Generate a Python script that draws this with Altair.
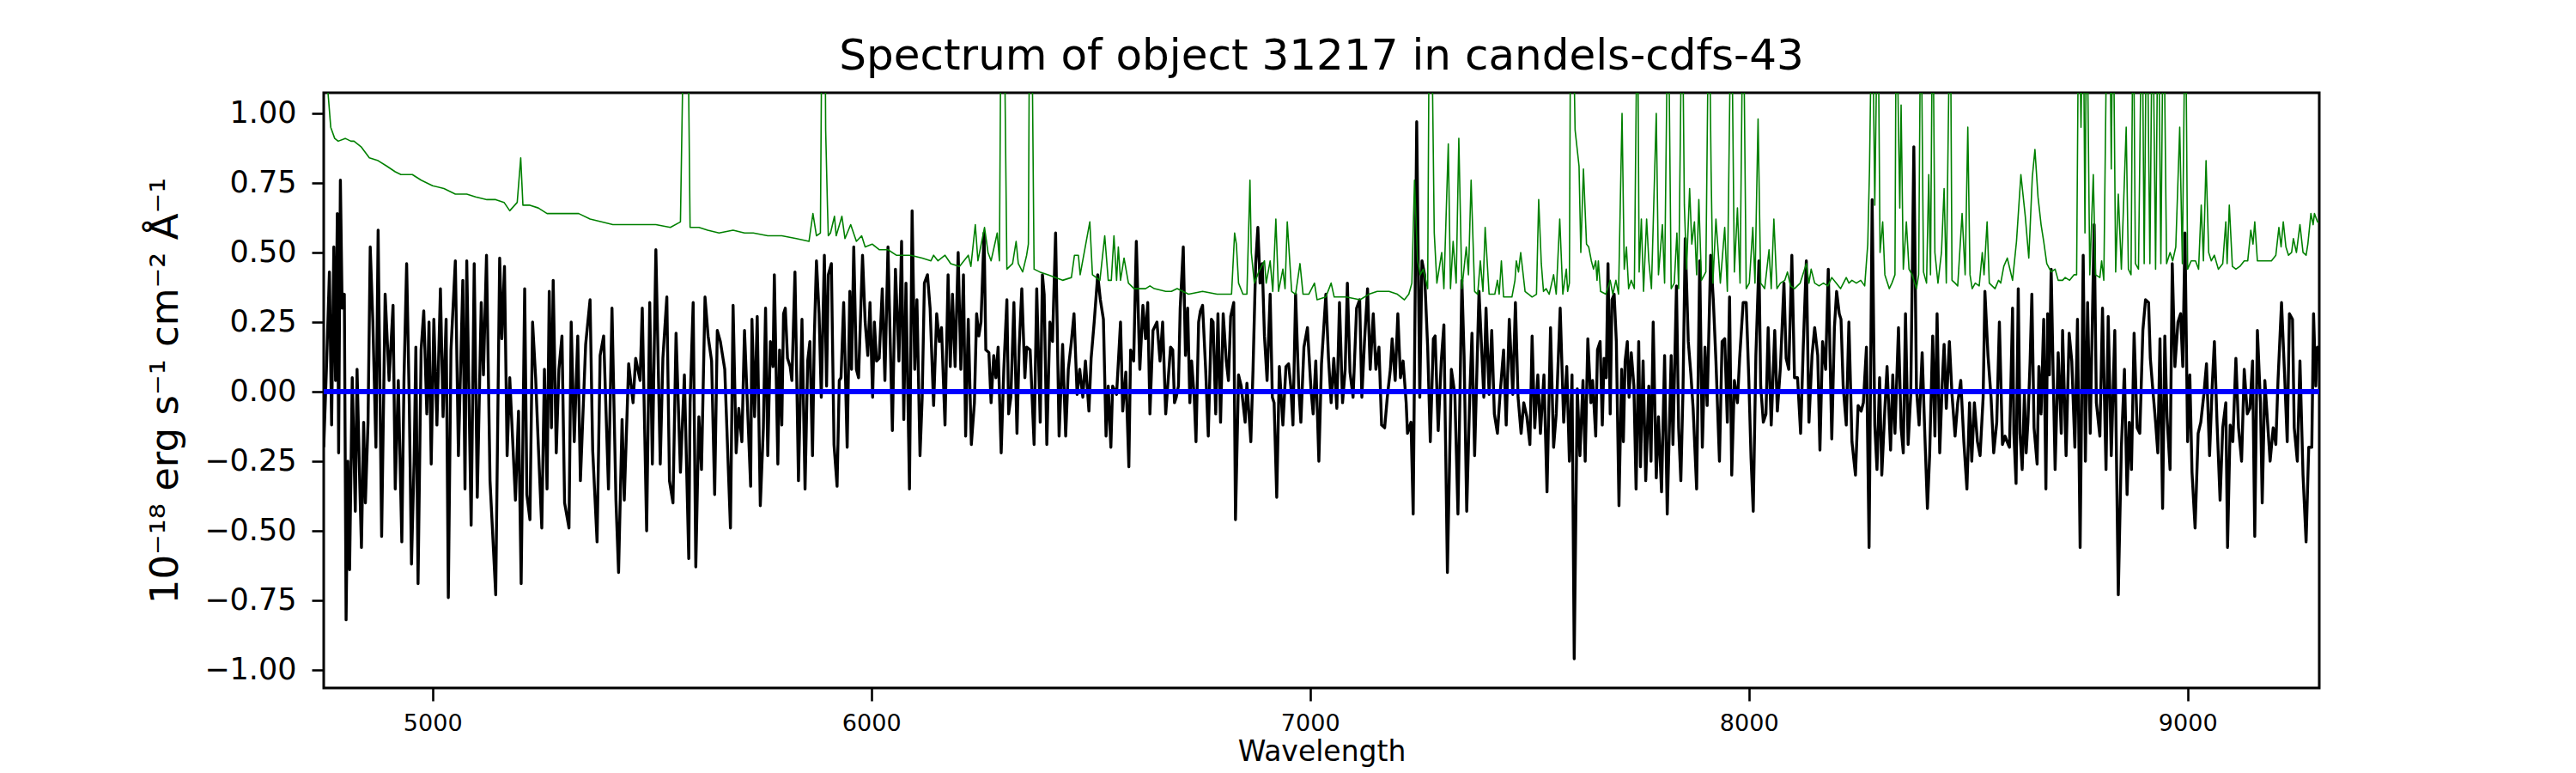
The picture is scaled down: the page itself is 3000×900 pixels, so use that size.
import altair as alt
import pandas as pd

TITLE = "Spectrum of object 31217 in candels-cdfs-43"
X_TITLE = "Wavelength"
Y_TITLE = "10⁻¹⁸ erg s⁻¹ cm⁻² Å⁻¹"
X_TICKS = [5000, 6000, 7000, 8000, 9000]
Y_TICKS = [-1.0, -0.75, -0.5, -0.25, 0.0, 0.25, 0.5, 0.75, 1.0]
X_RANGE = [4752, 9300]
Y_RANGE = [-1.065, 1.074]

wl_a = [4752,4759,4765,4770,4775,4779,4783,4786,4790,4794,4799,4803,4807,4811,4817,4824,4828,4834,4838,4843,
        4847,4853,4858,4864,4871,4876,4884,4892,4901,4910,4915,4922,4930,4935,4941,4947,4952,4958,4962,4967,
        4974,4980,4987,4992,4997,5003,5010,5018,5024,5031,5036,5042,5052,5059,5069,5074,5078,5088,5095,5102,
        5111,5116,5123,5131,5144,5153,5158,5164,5170,5176,5189,5196,5202,5210,5215,5222,5228,5235,5241,5249,
        5255,5261,5266,5271,5275,5282,5288,5295,5301,5311,5316,5323,5331,5337,5349,5359,5365,5375,5382,5390,
        5401,5409,5418,5424,5432,5437,5447,5457,5463,5473,5478,5488,5495,5501,5509,5519,5525,5534,5540,5548,
        5555,5565,5574,5584,5587,5594,5600,5607,5613,5621,5628,5636,5643,5649,5656,5666,5679,5685,5692,5698,
        5705,5711]
flux_a = [-0.20,0.12,0.43,-0.12,0.52,0.04,0.64,-0.22,0.76,0.30,0.35,-0.82,-0.25,-0.64,0.05,-0.43,0.08,-0.32,-0.56,-0.11,
          -0.40,-0.11,0.52,0.25,-0.20,0.58,-0.52,0.35,0.04,0.31,-0.35,0.04,-0.54,0.05,0.46,-0.04,-0.62,-0.25,0.16,-0.69,
          0.15,0.29,-0.08,0.25,-0.26,0.26,-0.12,0.37,-0.09,0.26,-0.74,0.15,0.47,-0.23,0.40,-0.35,0.47,-0.48,0.46,-0.38,
          0.32,0.06,0.49,-0.32,-0.73,0.48,0.19,0.45,-0.23,0.05,-0.39,-0.07,-0.69,0.37,-0.37,-0.46,0.25,0.05,-0.19,-0.49,
          0.08,-0.35,0.36,-0.13,0.40,-0.22,0.08,0.20,-0.40,-0.49,0.25,-0.18,0.20,-0.32,0.17,0.33,-0.21,-0.54,0.13,0.20,
          -0.35,0.30,-0.39,-0.65,-0.10,-0.39,0.10,-0.04,0.12,0.04,0.30,-0.50,0.32,-0.26,0.51,-0.26,0.12,0.34,-0.32,-0.40,
          0.21,-0.29,0.06,-0.60,-0.04,0.32,-0.63,-0.09,-0.28,0.34,0.20,0.11,-0.37,0.22,0.18,0.08,-0.49,0.31,-0.22,-0.06,
          -0.18,0.22]

wl_b = [5725,5728,5734,5740,5747,5754,5759,5764,5770,5776,5779,5787,5791,5796,5800,5804,5809,5815,5819,5826,
        5834,5842,5849,5855,5860,5866,5870,5875,5881,5886,5893,5898,5902,5909,5915,5922,5927,5931,5937,5945,
        5951,5955,5960,5966,5971,5980,5986,5992,5997,6003,6007,6012,6018,6025,6031,6038,6048,6055,6063,6069,
        6074,6079,6087,6093,6099,6104,6111,6116,6121,6128,6134,6142,6149,6155,6160,6168,6175,6180,6185,6191,
        6198,6204,6210,6215,6221,6228,6235,6240,6245,6250,6257,6261,6268,6273,6279,6284,6289,6296,6302,6309,
        6313,6318,6325,6332,6337,6343,6350,6354,6362,6371,6377,6385,6390,6394,6400,6407,6413,6420,6428,6436,
        6443,6449,6456,6462,6469,6475,6482,6488,6496,6501,6508,6516,6522,6529,6535,6540,6546,6550,6559,6568,
        6573,6580,6587,6591,6598,6604,6612,6619,6625,6630,6635,6642,6651,6658,6664,6671]
flux_b = [-0.34,0.26,-0.09,0.27,-0.41,-0.13,0.30,-0.23,0.18,0.09,0.42,-0.26,0.15,-0.12,0.28,0.30,0.12,0.09,0.04,0.43,
          -0.32,0.26,-0.35,0.11,0.18,-0.23,0.19,0.47,0.28,-0.02,0.49,0.02,0.42,0.46,-0.19,-0.34,0.04,0.05,0.32,-0.20,
          0.36,0.08,0.52,0.08,0.05,0.49,0.25,0.13,0.32,-0.02,0.25,0.11,0.12,0.37,0.04,0.52,-0.14,0.44,0.11,0.54,
          -0.10,0.39,-0.35,0.65,0.08,0.33,-0.23,-0.02,0.39,0.42,0.30,-0.05,0.28,0.18,0.23,-0.12,0.42,0.09,0.35,0.09,
          0.50,0.08,0.42,-0.16,0.26,-0.19,-0.04,0.28,0.20,0.25,0.57,0.15,0.14,-0.04,0.13,0.05,0.16,-0.22,0.08,0.33,
          -0.08,-0.02,0.32,-0.15,0.16,0.37,0.05,0.16,0.15,-0.19,0.37,-0.11,0.42,0.35,-0.19,0.25,0.18,0.57,-0.16,0.17,
          -0.16,0.08,0.18,0.28,-0.01,0.08,-0.02,0.11,-0.07,0.12,0.25,0.42,0.33,0.26,-0.16,0.02,-0.20,0.02,-0.01,0.25,
          -0.07,0.07,-0.27,0.15,0.11,0.54,0.08,0.31,0.19,0.32,-0.08,0.22,0.25,0.11,0.25,-0.08]

wl_c = [6682,6687,6691,6695,6700,6704,6711,6716,6721,6726,6730,6736,6740,6746,6750,6755,6762,6768,6775,6779,
        6785,6790,6796,6802,6809,6814,6819,6826,6830,6837,6843,6852,6856,6865,6870,6876,6881,6886,6891,6896,
        6902,6909,6914,6918,6924,6930,6935,6938,6945,6951,6956,6961,6967,6974,6979,6986,6994,7002,7007,7013,
        7020,7026,7036,7042,7048,7054,7061,7067,7074,7080,7085,7091,7098,7106,7113,7118,7124,7131,7137,7144,
        7150,7157,7163,7170,7176,7183,7187,7194,7200,7206,7212,7219,7222,7230,7235,7243,7250,7255,7261,7268,
        7274,7281,7285,7292,7299,7305,7313,7322,7330,7337,7346,7351,7357,7364,7369,7375,7385,7392,7396,7401,
        7408,7414,7420,7427,7433,7441,7447,7454,7462,7468,7474,7481,7487,7494,7501,7506,7512,7519,7525,7533,
        7540,7548,7555,7561,7570,7578,7585,7591,7597,7602,7609,7615,7622,7627,7633]
flux_c = [0.16,0.15,-0.04,-0.02,0.02,0.30,0.52,0.13,0.30,-0.04,0.11,-0.02,-0.18,0.25,0.29,0.31,0.08,-0.16,0.26,0.25,
          -0.08,0.28,-0.11,0.28,0.11,0.04,0.27,0.32,-0.46,0.06,0.02,-0.11,0.03,-0.18,0.08,0.46,0.59,0.39,0.46,0.20,
          0.04,0.35,-0.02,-0.04,-0.38,0.09,-0.04,-0.12,0.09,0.10,0.02,-0.12,0.35,0.02,-0.11,0.16,0.23,0.01,-0.08,0.11,
          -0.25,0.10,0.35,0.12,-0.04,0.12,-0.06,0.32,-0.04,0.08,0.39,0.07,-0.02,0.30,0.33,-0.02,0.18,0.37,0.08,0.28,
          0.08,0.16,-0.12,-0.13,-0.02,0.08,0.19,0.04,0.28,0.05,0.11,-0.04,-0.15,-0.11,-0.44,0.97,-0.02,0.47,0.42,0.16,
          -0.18,0.19,0.20,-0.14,0.11,0.24,-0.65,0.08,-0.01,-0.44,0.40,0.13,-0.43,-0.01,0.21,-0.23,0.36,0.12,-0.02,0.30,
          -0.01,0.22,-0.08,-0.15,-0.01,0.15,-0.12,0.26,-0.01,0.32,-0.02,-0.15,-0.04,-0.09,-0.19,0.20,-0.13,0.06,-0.15,0.06,
          -0.36,0.23,-0.20,-0.08,0.30,-0.11,0.09,-0.25,0.06,-0.96,0.01,-0.23,0.04,-0.25,0.19]

wl_d = [7640,7644,7651,7655,7661,7666,7670,7675,7679,7684,7688,7693,7698,7704,7710,7714,7718,7723,7727,7732,
        7738,7743,7749,7753,7759,7765,7772,7777,7782,7789,7794,7801,7808,7814,7823,7827,7835,7840,7845,7850,
        7855,7862,7868,7873,7881,7888,7894,7900,7905,7913,7919,7925,7933,7939,7945,7951,7956,7961,7967,7974,
        7979,7987,7994,8000,8005,8010,8016,8023,8027,8033,8039,8044,8051,8059,8065,8072,8080,8085,8091,8098,
        8104,8111,8118,8124,8131,8137,8144,8150,8157,8162,8168,8175,8181,8189,8195,8200,8206,8210,8215,8222,
        8228,8235,8243,8249,8256,8261,8268,8274,8281,8287,8292,8298,8303,8310,8315,8323,8328,8333,8341,8347,
        8352,8357,8363,8369,8376,8382,8388,8395,8401,8407,8412,8419,8424,8429,8435,8441,8445,8450,8457,8463,
        8470,8476,8483,8490,8497,8503,8508,8514,8521,8527,8534,8538,8545,8552,8558,8565,8571,8578,8584,8591]
flux_d = [-0.04,0.04,-0.16,0.15,0.18,-0.12,0.12,0.05,0.46,-0.08,0.33,0.35,0.18,-0.41,0.08,-0.18,0.11,0.18,-0.02,0.14,
          0.02,-0.35,0.18,-0.27,0.11,-0.32,0.02,-0.25,0.25,-0.31,-0.09,-0.36,0.13,-0.44,0.13,-0.19,0.38,-0.13,-0.32,0.01,
          0.55,0.18,0.06,-0.06,-0.35,0.47,-0.20,0.16,-0.05,0.49,0.33,0.11,-0.25,0.18,0.19,-0.11,0.34,-0.30,0.04,-0.04,
          0.12,0.32,0.32,0.04,-0.24,-0.43,0.13,0.47,0.02,-0.11,-0.08,0.23,-0.12,0.22,-0.07,0.09,0.39,0.12,0.08,0.49,
          0.05,0.05,-0.15,0.16,0.47,-0.11,0.13,0.23,0.13,-0.21,0.18,0.08,0.44,-0.17,0.23,0.36,0.28,0.26,0.02,-0.12,
          0.25,-0.18,-0.30,-0.05,-0.07,-0.04,0.16,-0.56,0.69,-0.12,-0.28,0.05,-0.30,-0.06,0.09,-0.21,0.06,-0.15,0.23,-0.13,
          -0.22,0.28,-0.19,-0.01,0.88,0.01,-0.12,0.14,-0.15,-0.42,-0.23,0.20,-0.16,0.28,-0.22,0.04,0.17,-0.06,0.18,-0.01,
          -0.16,-0.04,0.04,-0.18,-0.35,-0.04,-0.25,-0.04,-0.18,-0.23,-0.02,0.36,0.13,-0.02,-0.22,-0.11,0.25,-0.19,-0.16,-0.19]

wl_e = [8594,8601,8604,8609,8614,8618,8623,8628,8632,8636,8641,8645,8650,8657,8661,8666,8672,8677,8681,8685,
        8689,8693,8698,8705,8712,8715,8723,8730,8736,8743,8749,8755,8762,8767,8772,8778,8787,8792,8800,8806,
        8814,8819,8826,8834,8842,8849,8856,8862,8867,8872,8878,8885,8891,8898,8904,8911,8915,8920,8927,8932,
        8937,8943,8948,8953,8960,8965,8971,8978,8984,8989,8994,9000,9005,9010,9017,9024,9030,9037,9043,9050,
        9056,9061,9067,9074,9080,9087,9091,9097,9103,9110,9116,9123,9129,9136,9142,9148,9153,9159,9166,9170,
        9176,9183,9188,9195,9201,9206,9214,9221,9227,9232,9239,9243,9250,9256,9263,9270,9276,9283,9287,9292,
        9296,9299]
flux_e = [-0.20,0.30,-0.15,-0.33,0.37,-0.15,-0.28,-0.01,-0.22,-0.11,0.11,0.35,-0.13,-0.26,0.09,-0.08,0.26,-0.35,0.28,0.06,
          0.44,0.11,-0.28,0.14,-0.15,0.22,-0.23,0.21,0.11,-0.20,0.26,-0.56,0.49,-0.25,0.32,-0.15,0.60,-0.04,-0.16,0.30,
          -0.28,0.27,-0.23,0.22,-0.73,-0.20,0.08,-0.37,-0.11,-0.28,0.21,-0.13,-0.15,0.22,0.33,0.32,0.12,0.02,-0.11,-0.22,
          0.19,-0.42,0.20,-0.09,-0.28,0.46,0.09,0.25,0.28,0.09,0.57,-0.18,0.06,-0.29,-0.49,-0.15,-0.11,-0.01,0.10,-0.23,
          0.02,0.18,-0.11,-0.39,-0.13,-0.04,-0.56,-0.12,-0.18,0.12,-0.13,-0.25,0.08,-0.08,-0.06,0.11,-0.52,0.22,-0.04,-0.40,
          0.04,-0.13,-0.25,-0.13,-0.19,0.04,0.32,0.06,-0.18,0.28,0.26,-0.13,-0.25,0.11,-0.30,-0.54,-0.20,-0.20,0.28,0.02,
          0.16,0.11]

# ---- noise spectrum (green); values above the top of the axis are clipped ----
nwl_a = [4752,4762,4768,4777,4785,4801,4814,4821,4837,4856,4876,4896,4915,4928,4954,4974,5000,5026,5052,5078,
         5098,5124,5144,5163,5176,5193,5201,5206,5222,5241,5261,5281,5307,5333,5359,5385,5411,5444,5470,5509,
         5542,5565,5574,5581,5587,5607,5627,5653,5685,5711]
noise_a = [1.3,1.07,0.95,0.91,0.90,0.91,0.90,0.90,0.88,0.84,0.83,0.81,0.79,0.78,0.78,0.76,0.74,0.73,0.71,0.71,
           0.70,0.69,0.69,0.68,0.65,0.68,0.84,0.67,0.67,0.66,0.64,0.64,0.64,0.64,0.62,0.61,0.60,0.60,0.60,0.60,
           0.59,0.61,1.5,1.5,0.59,0.59,0.58,0.57,0.58,0.57]

nwl_b = [5731,5764,5796,5829,5858,5867,5875,5884,5888,5894,5896,5900,5902,5907,5916,5920,5933,5940,5953,5966,
         5978,5986,6002,6018,6038,6057,6090,6116,6136,6142,6152,6168,6181,6201,6221,6227,6237,6243,6258,6266,
         6273,6287,6292,6296,6302,6309,6322,6330,6335,6345,6354,6358,6361,6365,6371,6384,6403,6436,6456,6463,
         6472,6476,6498,6504,6521,6532,6540,6547,6553,6559,6563,6568,6576,6586,6599,6625,6635,6645,6671]
noise_b = [0.57,0.56,0.56,0.55,0.54,0.64,0.56,0.57,1.5,1.5,0.94,0.67,0.56,0.57,0.63,0.56,0.63,0.55,0.60,0.54,
           0.56,0.52,0.53,0.51,0.51,0.49,0.49,0.48,0.47,0.49,0.47,0.49,0.46,0.45,0.49,0.45,0.60,0.47,0.59,0.50,
           0.47,0.57,0.47,1.5,1.5,0.44,0.46,0.54,0.46,0.43,0.49,0.53,1.5,1.5,0.44,0.43,0.42,0.40,0.41,0.49,
           0.49,0.42,0.61,0.42,0.40,0.56,0.40,0.40,0.56,0.40,0.52,0.40,0.48,0.39,0.37,0.37,0.38,0.37,0.36]

nwl_c = [6684,6697,6723,6755,6788,6821,6828,6832,6837,6847,6856,6863,6866,6873,6883,6896,6900,6909,6915,6922,
         6928,6938,6943,6948,6958,6967,6977,6984,6997,7010,7016,7036,7048,7055,7082,7114,7134,7153,7180,7199,
         7215,7225,7232,7238,7245,7251,7258,7268,7272,7276,7283,7289,7300,7305,7315,7320,7326,7333,7339,7346,
         7356,7361,7367,7375,7382,7388,7394,7399,7408,7421,7427,7431,7436,7441,7460,7467,7470,7475,7480,7490,
         7506,7516,7521,7527,7532,7538,7545,7555,7561,7569,7576,7584,7587,7591,7594,7598,7604,7613,7617,7623,
         7630]
noise_c = [0.36,0.37,0.35,0.36,0.35,0.35,0.57,0.53,0.39,0.35,0.35,0.76,0.50,0.39,0.43,0.47,0.39,0.47,0.36,0.62,
           0.36,0.44,0.37,0.61,0.36,0.35,0.46,0.35,0.35,0.39,0.33,0.34,0.39,0.34,0.34,0.33,0.35,0.36,0.36,0.35,
           0.33,0.35,0.39,0.76,0.47,0.42,0.44,0.37,1.5,1.5,0.57,0.39,0.50,0.37,0.89,0.37,0.54,0.39,0.91,0.37,
           0.52,0.42,0.76,0.36,0.35,0.47,0.36,0.59,0.35,0.35,0.40,0.35,0.47,0.34,0.34,0.40,0.47,0.43,0.50,0.36,
           0.34,0.35,0.69,0.46,0.36,0.37,0.35,0.42,0.35,0.62,0.35,0.44,0.36,0.39,1.5,1.5,0.94,0.81,0.50,0.80,
           0.53]

nwl_d = [7635,7641,7646,7651,7654,7657,7662,7674,7684,7690,7697,7703,7711,7716,7721,7726,7732,7739,7746,7750,
         7755,7760,7767,7772,7778,7789,7794,7803,7808,7816,7823,7830,7836,7840,7848,7853,7858,7865,7870,7876,
         7881,7886,7892,7902,7909,7914,7918,7925,7935,7945,7951,7960,7967,7974,7980,7987,7994,8001,8009,8014,
         8021,8027,8036,8046,8051,8057,8064,8072,8082,8088,8095,8104,8117,8131,8137,8142,8150,8160,8170,8180,
         8189,8199,8209,8222,8228,8235,8245,8255,8264,8271,8275,8281,8287,8294,8299,8305,8310,8320,8326,8333,
         8336,8341,8344,8347,8352,8359,8365,8372,8382,8387,8392,8398,8405,8410,8414,8419,8424,8431,8439,8445,
         8450,8459,8463,8470,8476,8486,8493,8499,8504,8509,8516,8525,8532,8536,8543,8548,8561,8569,8574,8581,
         8589]
noise_d = [0.52,0.47,0.44,0.47,0.40,0.47,0.36,0.35,0.40,0.35,0.40,0.35,1.00,0.44,0.52,0.37,0.40,0.37,1.5,0.43,
           0.62,0.36,0.62,0.47,0.37,1.00,0.42,0.60,0.39,1.5,0.37,0.39,0.57,0.37,1.5,0.67,0.44,0.73,0.53,0.61,
           0.42,0.69,0.40,0.43,1.5,0.79,0.39,0.62,0.39,0.59,0.36,1.5,0.43,0.66,0.39,1.5,0.37,0.39,0.59,0.39,
           0.98,0.39,0.37,0.51,0.37,0.62,0.37,0.39,0.40,0.43,0.38,0.37,0.39,0.46,0.39,0.44,0.39,0.38,0.39,0.38,
           0.41,0.39,0.37,0.41,0.39,0.40,0.39,0.40,0.38,0.53,0.80,1.5,0.67,1.5,0.50,0.61,0.42,0.37,0.39,0.42,
           1.5,0.95,0.66,1.03,0.44,0.61,0.44,0.42,0.37,0.42,1.5,0.43,0.39,0.78,0.42,1.5,0.50,0.39,0.50,0.73,
           0.39,1.5,0.40,0.39,0.38,0.64,0.42,0.95,0.42,0.37,0.39,0.38,0.50,0.42,0.61,0.39,0.37,0.40,0.39,0.45,
           0.48]

nwl_e = [8601,8610,8620,8630,8638,8646,8652,8659,8666,8672,8679,8689,8698,8705,8715,8721,8731,8741,8747,8752,
         8757,8762,8766,8770,8777,8785,8790,8800,8804,8809,8817,8822,8826,8830,8836,8842,8849,8860,8865,8871,
         8876,8881,8888,8896,8901,8907,8914,8920,8927,8933,8939,8945,8952,8960,8966,8973,8982,8988,8995,9000,
         9008,9018,9025,9031,9036,9042,9048,9054,9061,9070,9080,9087,9090,9095,9102,9110,9119,9129,9137,9144,
         9149,9153,9159,9168,9181,9191,9201,9208,9213,9218,9224,9230,9237,9241,9248,9256,9263,9270,9274,9281,
         9286,9289,9296,9299]
noise_e = [0.40,0.54,0.78,0.63,0.48,0.77,0.87,0.70,0.60,0.54,0.46,0.43,0.44,0.40,0.40,0.41,0.40,0.42,0.42,1.5,
           0.95,1.5,0.57,1.5,0.42,0.78,0.42,0.41,0.47,0.40,1.5,1.5,0.80,1.5,0.43,0.71,0.44,0.95,0.44,0.42,
           1.5,0.46,0.44,1.5,0.46,1.5,0.46,1.5,0.44,1.5,0.46,1.5,0.46,0.50,0.47,0.52,0.95,0.46,1.5,0.44,
           0.47,0.47,0.44,0.67,0.47,0.83,0.50,0.47,0.49,0.44,0.46,0.61,0.46,0.67,0.45,0.44,0.45,0.47,0.47,0.58,
           0.53,0.61,0.47,0.47,0.47,0.47,0.49,0.59,0.52,0.61,0.52,0.49,0.50,0.55,0.50,0.60,0.50,0.49,0.53,0.64,
           0.60,0.64,0.61,0.61]

zero_wl = [4752, 9300]
zero_val = [0.0, 0.0]

flux_df = pd.DataFrame({"wavelength": wl_a + wl_b + wl_c + wl_d + wl_e,
                        "value": flux_a + flux_b + flux_c + flux_d + flux_e})
noise_df = pd.DataFrame({"wavelength": nwl_a + nwl_b + nwl_c + nwl_d + nwl_e,
                         "value": noise_a + noise_b + noise_c + noise_d + noise_e})
zero_df = pd.DataFrame({"wavelength": zero_wl, "value": zero_val})

FONT = "DejaVu Sans"

x_enc = alt.X("wavelength:Q",
              scale=alt.Scale(domain=X_RANGE, nice=False, zero=False),
              axis=alt.Axis(title=X_TITLE, values=X_TICKS, format="d", grid=False, domain=False,
                            labelFont=FONT, labelFontSize=27, labelColor="black", labelPadding=13,
                            tickSize=15, tickWidth=2.6, tickColor="black",
                            titleFont=FONT, titleFontSize=33, titleFontWeight="normal",
                            titleColor="black", titlePadding=4))
y_enc = alt.Y("value:Q",
              scale=alt.Scale(domain=Y_RANGE, nice=False, zero=False),
              axis=alt.Axis(title=Y_TITLE, values=Y_TICKS, format=".2f", grid=False, domain=False,
                            labelFont=FONT, labelFontSize=35, labelColor="black", labelPadding=18,
                            tickSize=14, tickWidth=2.6, tickColor="black",
                            titleFont=FONT, titleFontSize=45, titleFontWeight="normal",
                            titleColor="black", titlePadding=22))

flux_line = alt.Chart(flux_df).mark_line(color="#000000", strokeWidth=3.4, strokeJoin="round",
                                         clip=True).encode(x=x_enc, y=y_enc)
noise_line = alt.Chart(noise_df).mark_line(color="#008000", strokeWidth=1.6, strokeJoin="round",
                                           clip=True).encode(x=x_enc, y=y_enc)
zero_line = alt.Chart(zero_df).mark_line(color="#0000ff", strokeWidth=6,
                                         clip=True).encode(x=x_enc, y=y_enc)

chart = alt.layer(flux_line, noise_line, zero_line).properties(
    width=2324,
    height=693,
    title=alt.TitleParams(text=TITLE, font=FONT, fontSize=50, fontWeight="normal", color="black",
                          anchor="middle", baseline="alphabetic", offset=25, dy=48),
    autosize=alt.AutoSizeParams(type="none"),
    padding={"left": 369, "top": 100, "right": 280, "bottom": 98},
).configure(
    background="white",
    view=alt.ViewConfig(stroke="black", strokeWidth=3),
)

chart.save("out.html", embed_options={"renderer": "svg", "actions": False})
